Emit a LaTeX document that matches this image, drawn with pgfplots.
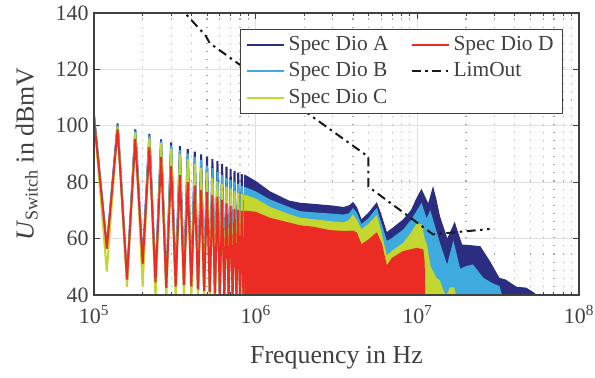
\documentclass[border=0pt]{standalone}
\usepackage{fontspec}
\setmainfont{Liberation Serif}
\usepackage{pgfplots}
\pgfplotsset{compat=1.18}
\definecolor{cA}{RGB}{42,45,128}
\definecolor{cB}{RGB}{62,170,222}
\definecolor{cC}{RGB}{196,214,48}
\definecolor{cD}{RGB}{236,44,36}
\definecolor{txt}{RGB}{64,64,64}
\begin{document}
\begin{tikzpicture}
\begin{axis}[
  width=485bp, height=282bp, scale only axis,
  xmode=log, xmin=1e5, xmax=1e8, ymin=40, ymax=140,
  xtick={1e5,1e6,1e7,1e8},
  xticklabels={10\textsuperscript{5},10\textsuperscript{6},10\textsuperscript{7},10\textsuperscript{8}},
  ytick={40,60,80,100,120,140},
  /pgf/number format/assume math mode=true,
  tick label style={font=\fontsize{22}{26}\selectfont, text=txt},
  xticklabel style={yshift=-7bp},
  yticklabel style={xshift=-2bp},
  label style={font=\fontsize{26}{30}\selectfont, text=txt},
  xlabel={Frequency in Hz},
  xlabel style={yshift=-16bp},
  ylabel={\textit{U}\textsubscript{Switch} in dBmV},
  ylabel style={yshift=11bp},
  grid=major, xminorgrids=true,
  major grid style={line width=1.3bp, color=black!12},
  minor grid style={line width=1.1bp, color=black!35, dash pattern=on 1.1bp off 7bp},
  axis line style={line width=1.2bp, color=txt},
  tick style={color=txt, line width=1bp},
  major tick length=6bp, minor tick length=3bp,
  tick align=inside,
  legend columns=2,
  legend cell align=left,
  legend style={at={(0.967,0.943)}, anchor=north east, font=\fontsize{21.5}{24}\selectfont,
    draw=txt, line width=1bp, fill=white, text=txt, inner xsep=5bp, inner ysep=2bp,
    nodes={inner xsep=4bp, inner ysep=3.5bp, text height=15bp, text depth=4.5bp},
    /tikz/every even column/.append style={column sep=18bp}},
  legend image code/.code={\draw[#1] (0bp,0bp) -- (37bp,0bp);},
]
% ---- Spec Dio A ----
\addplot[cA, line width=2bp, forget plot] coordinates {
(1e5,103.6) (1.2e5,56.5) (1.4e5,100.8) (1.6e5,45.5) (1.8e5,98.7) (2e5,51) (2.2e5,97.1) (2.4e5,44.5)
(2.6e5,95.2) (2.8e5,42.5) (3e5,94.1) (3.2e5,43) (3.4e5,92.8) (3.6e5,43.5) (3.8e5,91.8) (4e5,43)
(4.2e5,90.8) (4.4e5,42) (4.6e5,89.9) (4.8e5,41.5) (5e5,89) (5.2e5,41) (5.4e5,88.2) (5.6e5,40.5)
(5.8e5,87.5) (6e5,40) (6.2e5,86.5) (6.4e5,39) (6.6e5,85.5) (6.8e5,39) (7e5,84.7) (7.2e5,39)
(7.4e5,84) (7.6e5,39) (7.8e5,83.4) (8e5,39) (8.2e5,82.9) (8.4e5,39) (8.6e5,82.4)};
\addplot[fill=cA, draw=cA, line width=1.2bp, forget plot] coordinates {
(8.6e5,30) (8.6e5,82.4) (1e6,80.2) (1.22e6,76.6) (1.6e6,73.3) (1.88e6,72.5) (2.4e6,72) (2.87e6,71.6)
(3.5e6,71) (3.8e6,71.6) (4e6,72.7) (4.2e6,71) (4.5e6,66.5) (5e6,69) (5.6e6,72.5) (5.9e6,69)
(6.45e6,62) (7e6,63.5) (8.2e6,66.6) (9.2e6,70) (9.9e6,74) (1.06e7,77.2) (1.17e7,71.9) (1.25e7,77.8)
(1.3e7,74) (1.37e7,67.8) (1.53e7,59.5) (1.7e7,65.4) (1.88e7,57.7) (2.1e7,57.5) (2.44e7,57.1)
(2.8e7,51.8) (3.2e7,45.9) (3.5e7,45.3) (4.1e7,42.7) (4.7e7,42.4) (5.3e7,40.5) (5.6e7,38) (5.6e7,30)};
% ---- Spec Dio B ----
\addplot[cB, line width=2bp, forget plot] coordinates {
(1e5,103.4) (1.2e5,56.5) (1.4e5,100.3) (1.6e5,45.5) (1.8e5,98.2) (2e5,51) (2.2e5,96.5) (2.4e5,44.5)
(2.6e5,94.5) (2.8e5,42.5) (3e5,93) (3.2e5,43) (3.4e5,91.4) (3.6e5,43.5) (3.8e5,90.2) (4e5,43)
(4.2e5,89) (4.4e5,42) (4.6e5,87.9) (4.8e5,41.5) (5e5,85.9) (5.2e5,41) (5.4e5,85) (5.6e5,40.5)
(5.8e5,83.7) (6e5,40) (6.2e5,82.5) (6.4e5,39) (6.6e5,81.4) (6.8e5,39) (7e5,80.8) (7.2e5,39)
(7.4e5,80.2) (7.6e5,39) (7.8e5,79.3) (8e5,39) (8.2e5,78.6) (8.4e5,39) (8.6e5,78.1)};
\addplot[fill=cB, draw=cB, line width=1.2bp, forget plot] coordinates {
(8.6e5,30) (8.6e5,78.1) (1e6,76.5) (1.22e6,73.7) (1.6e6,71) (1.88e6,69.5) (2.4e6,69) (2.87e6,68.7)
(3.5e6,68.3) (3.8e6,68.8) (4e6,70.5) (4.2e6,69) (4.5e6,64.8) (5e6,67) (5.6e6,70.5) (5.9e6,66)
(6.45e6,58.9) (7e6,60) (8.2e6,63) (9.2e6,66.5) (9.9e6,69.5) (1.06e7,72.2) (1.14e7,66.6) (1.2e7,69.5)
(1.28e7,64) (1.37e7,58.3) (1.53e7,50) (1.67e7,58.5) (1.83e7,49) (2e7,50) (2.2e7,50.6) (2.55e7,45.9)
(2.9e7,44) (3.2e7,43) (3.35e7,39) (3.35e7,30)};
% ---- Spec Dio C ----
\addplot[cC, line width=2bp, forget plot] coordinates {
(1e5,103.1) (1.2e5,48.3) (1.4e5,99.8) (1.6e5,42.9) (1.8e5,97.6) (2e5,42.9) (2.2e5,95.8) (2.4e5,39)
(2.6e5,93.8) (2.8e5,38.5) (3e5,91.8) (3.2e5,38.5) (3.4e5,89.9) (3.6e5,38.5) (3.8e5,88.2) (4e5,38.5)
(4.2e5,86.7) (4.4e5,38.5) (4.6e5,85) (4.8e5,38.5) (5e5,83.5) (5.2e5,38.5) (5.4e5,81.4) (5.6e5,38.5)
(5.8e5,80.2) (6e5,38.5) (6.2e5,79.3) (6.4e5,38.5) (6.6e5,78.4) (6.8e5,38.5) (7e5,77.6) (7.2e5,38.5)
(7.4e5,76.9) (7.6e5,38.5) (7.8e5,76.3) (8e5,38.5) (8.2e5,75.8) (8.4e5,38.5) (8.6e5,75.3)};
\addplot[fill=cC, draw=cC, line width=1.2bp, forget plot] coordinates {
(8.6e5,30) (8.6e5,75.3) (1e6,74) (1.22e6,71.1) (1.6e6,68.5) (1.88e6,67.2) (2.4e6,66.5) (2.87e6,66)
(3.5e6,65.5) (3.8e6,66.5) (4e6,68.2) (4.2e6,66.5) (4.5e6,63) (5e6,65) (5.6e6,68) (5.9e6,63)
(6.45e6,53.6) (7e6,55.5) (8.2e6,58.3) (9.2e6,62) (9.9e6,65) (1.06e7,64.8) (1.1e7,60) (1.14e7,57.5)
(1.2e7,50) (1.3e7,46) (1.37e7,45) (1.45e7,41) (1.52e7,39.5) (1.6e7,42.5) (1.68e7,42.5) (1.75e7,38)
(1.75e7,30)};
% ---- Spec Dio D ----
\addplot[cD, line width=2bp, forget plot] coordinates {
(1e5,102.6) (1.2e5,56.5) (1.4e5,98.8) (1.6e5,45.5) (1.8e5,95.3) (2e5,51) (2.2e5,92.4) (2.4e5,44.5)
(2.6e5,89) (2.8e5,42.5) (3e5,85.7) (3.2e5,43) (3.4e5,82.5) (3.6e5,43.5) (3.8e5,80) (4e5,43)
(4.2e5,78.8) (4.4e5,42) (4.6e5,77.2) (4.8e5,41.5) (5e5,76.6) (5.2e5,41) (5.4e5,75.5) (5.6e5,40.5)
(5.8e5,74.9) (6e5,40) (6.2e5,73.7) (6.4e5,39) (6.6e5,72.5) (6.8e5,39) (7e5,71.5) (7.2e5,39)
(7.4e5,70.5) (7.6e5,39) (7.8e5,70.2) (8e5,39) (8.2e5,69.9) (8.4e5,39) (8.6e5,69.7)};
\addplot[fill=cD, draw=cD, line width=1.2bp, forget plot] coordinates {
(8.6e5,30) (8.6e5,69.7) (1e6,69.3) (1.22e6,67.2) (1.6e6,65.5) (1.88e6,64.5) (2.27e6,64) (2.87e6,62.8)
(3.5e6,62.5) (4e6,62.6) (4.2e6,62) (4.5e6,57.7) (5e6,59.5) (5.6e6,61.9) (6e6,58) (6.45e6,50)
(7e6,53) (8.2e6,55.4) (9.9e6,56.5) (1.08e7,56) (1.1e7,52) (1.11e7,38) (1.11e7,30)};
% ---- LimOut ----
\addplot[black!90, line width=2bp, dash pattern=on 9bp off 4.5bp on 2.5bp off 4.5bp, forget plot] coordinates {
(3.3e5,143) (3.65e5,140) (4.9e5,132) (5.2e5,129.3) (4.98e6,89) (4.98e6,78.4) (1.25e7,61.5) (2.8e7,63.4)};
\coordinate (bl) at (rel axis cs:0,0);
\coordinate (tr) at (rel axis cs:1,1);
\addlegendimage{cA, line width=2bp}\addlegendentry{Spec Dio A}
\addlegendimage{cD, line width=2bp}\addlegendentry{Spec Dio D}
\addlegendimage{cB, line width=2bp}\addlegendentry{Spec Dio B}
\addlegendimage{black!90, line width=2bp, dash pattern=on 9bp off 4.5bp on 2.5bp off 4.5bp}\addlegendentry{LimOut}
\addlegendimage{cC, line width=2bp}\addlegendentry{Spec Dio C}
\end{axis}
\draw[txt, line width=1.2bp] (bl) rectangle (tr);
\pgfresetboundingbox
\path[use as bounding box] (bl) ++(-94bp,-83bp) rectangle ++(595bp,378bp);
\end{tikzpicture}
\end{document}
